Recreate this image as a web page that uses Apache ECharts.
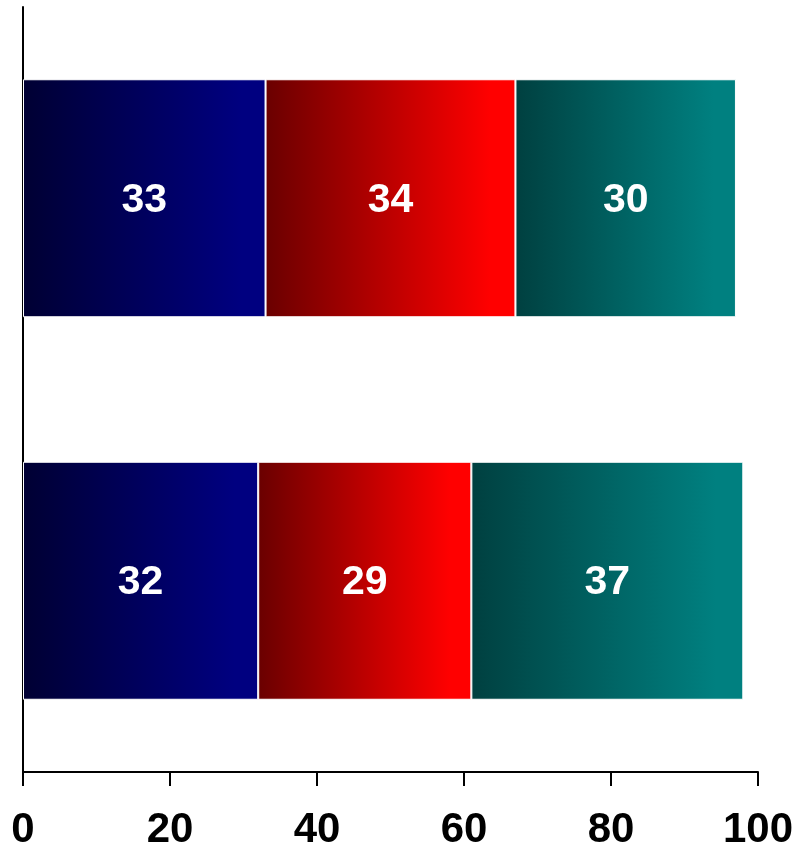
<!DOCTYPE html>
<html><head><meta charset="utf-8">
<script src="https://cdn.jsdelivr.net/npm/echarts@6/dist/echarts.min.js"></script>
<style>html,body{margin:0;padding:0;background:#fff}#c{width:801px;height:851px}</style>
</head><body><div id="c"></div>
<script>
const categories = ['B', 'A'];
const seriesBlue = [32, 33];
const seriesRed = [29, 34];
const seriesTeal = [37, 30];
const xTicks = [0, 20, 40, 60, 80, 100];

function grad(c0, c1) {
  return new echarts.graphic.LinearGradient(0, 0, 1, 0, [
    {offset: 0, color: c0}, {offset: 0.9, color: c1}, {offset: 1, color: c1}
  ]);
}
function mk(data, c0, c1) {
  return {
    type: 'bar', stack: 's', data: data, barWidth: 238,
    itemStyle: {color: grad(c0, c1), borderColor: '#fff', borderWidth: 1},
    label: {show: true, position: 'inside', color: '#fff', fontSize: 41, fontWeight: 'bold',
      fontFamily: 'Liberation Sans, Arial, sans-serif', offset: [0, 2]},
    emphasis: {disabled: true}, animation: false
  };
}
const chart = echarts.init(document.getElementById('c'));
chart.setOption({
  animation: false,
  grid: {left: 23, right: 43, top: 7, bottom: 77, containLabel: false},
  xAxis: {type: 'value', min: 0, max: 100, interval: 20,
    axisLine: {show: true, lineStyle: {color: '#000', width: 2}},
    axisTick: {show: true, length: 14, lineStyle: {color: '#000', width: 2}},
    splitLine: {show: false},
    axisLabel: {color: '#000', fontSize: 42, fontWeight: 'bold', margin: 37,
      fontFamily: 'Liberation Sans, Arial, sans-serif',
      formatter: v => xTicks.includes(v) ? String(v) : ''}
  },
  yAxis: {type: 'category', data: categories,
    axisLine: {show: true, lineStyle: {color: '#000', width: 2}},
    axisTick: {show: false}, axisLabel: {show: false}, splitLine: {show: false}
  },
  series: [
    mk(seriesBlue, '#000033', '#000080'),
    mk(seriesRed, '#6a0000', '#ff0000'),
    mk(seriesTeal, '#004040', '#008080')
  ]
});
</script></body></html>
